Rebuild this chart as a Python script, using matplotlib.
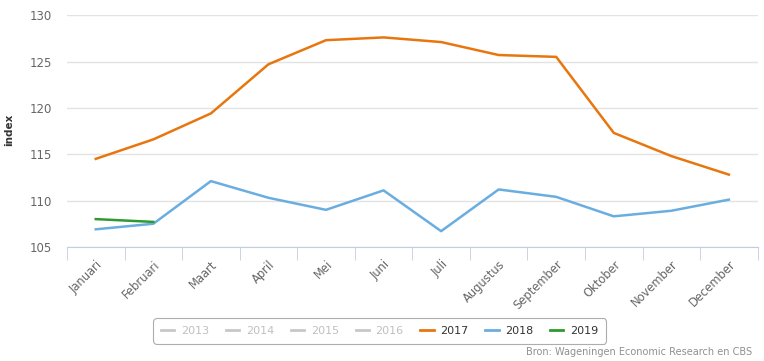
import numpy as np
import matplotlib.pyplot as plt
from matplotlib.lines import Line2D

# data
months = ['Januari', 'Februari', 'Maart', 'April', 'Mei', 'Juni', 'Juli',
          'Augustus', 'September', 'Oktober', 'November', 'December']
idx_2017 = [114.5, 116.6, 119.4, 124.7, 127.3, 127.6, 127.1, 125.7, 125.5, 117.3, 114.8, 112.8]
idx_2018 = [106.9, 107.5, 112.1, 110.3, 109.0, 111.1, 106.7, 111.2, 110.4, 108.3, 108.9, 110.1]
idx_2019 = [108.0, 107.7]
yticks = [105, 110, 115, 120, 125, 130]
legend_years = ['2013', '2014', '2015', '2016', '2017', '2018', '2019']

c17 = '#e8760f'
c18 = '#6aade0'
c19 = '#2f9a2f'
grey = '#c8c8c8'
txt = '#666666'

fig = plt.figure(figsize=(7.64, 3.61), dpi=100)
ax = fig.add_axes([0.0877, 0.316, 0.904, 0.642])

x = np.arange(len(months))
ax.plot(x, idx_2017, color=c17, lw=1.8)
ax.plot(x, idx_2018, color=c18, lw=1.8)
ax.plot(x[:len(idx_2019)], idx_2019, color=c19, lw=1.8)

ax.set_xlim(-0.5, 11.5)
ax.set_ylim(105, 130)
ax.set_yticks(yticks)
ax.yaxis.grid(True, color='#e3e3e3', lw=1)
ax.set_axisbelow(True)
for s in ['top', 'right', 'left']:
    ax.spines[s].set_visible(False)
ax.spines['bottom'].set_color('#c0cfe0')
ax.tick_params(axis='y', length=0, labelsize=8.5, labelcolor=txt, pad=11)

ax.set_xticks(x)
ax.set_xticklabels(months, rotation=45, ha='right', rotation_mode='anchor',
                   fontsize=8.3, color=txt)
ax.tick_params(axis='x', length=0, pad=8)
ax.set_xticks(np.arange(-0.5, 12, 1), minor=True)
ax.tick_params(axis='x', which='minor', length=9, color='#c0cfe0', direction='out')

fig.text(0.012, 0.64, 'index', rotation=90, fontsize=7.5, fontweight='bold',
         color='#333333', ha='center', va='center')

handles = []
for yr in legend_years:
    if yr == '2017':
        col = c17
    elif yr == '2018':
        col = c18
    elif yr == '2019':
        col = c19
    else:
        col = grey
    handles.append(Line2D([], [], color=col, lw=2))
leg = fig.legend(handles, legend_years, loc='center', bbox_to_anchor=(0.497, 0.083),
                 ncol=7, fontsize=8, frameon=True, handlelength=1.2,
                 columnspacing=1.5, handletextpad=0.6, borderpad=0.5)
leg.get_frame().set_edgecolor('#999999')
leg.get_frame().set_linewidth(0.8)
leg.get_frame().set_boxstyle('round,pad=0.2,rounding_size=0.3')
for t, yr in zip(leg.get_texts(), legend_years):
    t.set_color('#333333' if yr in ('2017', '2018', '2019') else '#c0c0c0')

fig.text(0.985, 0.01, 'Bron: Wageningen Economic Research en CBS', fontsize=7,
         color='#909090', ha='right', va='bottom')

fig.savefig('out.png', dpi=100)
